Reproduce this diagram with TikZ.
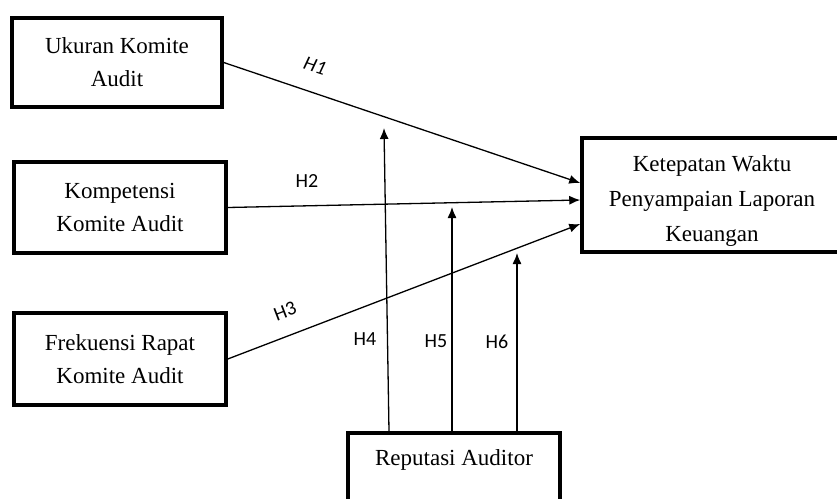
\documentclass[tikz,border=0pt]{standalone}
\usepackage{fontspec}
\usepackage{tikz}
\usetikzlibrary{arrows.meta, positioning}
\newfontfamily\boxfont{Liberation Serif}
\newfontfamily\labfont{Carlito}
\tikzset{
    boxnode/.style = {draw, rectangle, line width=3.5pt, inner sep = 0em, node distance=0em,
      minimum width=212pt, align=center, font=\boxfont\fontsize{23}{33}\selectfont},
    hnode/.style  = {draw=none, fill=none, rectangle, inner sep = 0em,
      font=\labfont\fontsize{20}{22}\selectfont},
    connect/.style = {black, line width=1.3pt, -{Latex[length=11pt, width=9pt]}}
}
\begin{document}
\begin{tikzpicture}[x=1pt, y=-1pt]
    \useasboundingbox (0,0) rectangle (837,498);
    \clip (0,0) rectangle (837,498);

    \node [name=ukuran, boxnode, minimum width=210pt, minimum height=89pt] at (117,62.5)
        {Ukuran Komite\\Audit};
    \node [name=kompetensi, boxnode, minimum height=91pt,
        below of = ukuran, xshift=3pt, yshift=-145pt] {Kompetensi\\Komite Audit};
    \node [name=frekuensi, boxnode, minimum height=92pt,
        below of = kompetensi, yshift=-151.5pt] {Frekuensi Rapat\\Komite Audit};

    \node [name=ketepatan, boxnode, minimum width=260pt, minimum height=114pt,
        right of = kompetensi, xshift=592pt, yshift=12.5pt, font=\boxfont\fontsize{23}{35}\selectfont]
        {\rule{0pt}{28pt}Ketepatan Waktu\\Penyampaian Laporan\\Keuangan};
    \node [name=reputasi, boxnode, minimum height=77pt, text depth=27pt,
        right of = frekuensi, xshift=334pt, yshift=-112.5pt] {Reputasi Auditor};

    \coordinate (m4) at (384,128);
    \coordinate (m5) at (452,207);
    \coordinate (m6) at (517,253);

    \draw (ukuran.east) edge[connect] ([yshift=12pt]ketepatan.west);
    \draw (kompetensi.east) edge[connect] ([yshift=-5pt]ketepatan.west);
    \draw (frekuensi.east) edge[connect] ([yshift=-29pt]ketepatan.west);

    \draw ([xshift=-65pt]reputasi.north) edge[connect] (m4);
    \draw ([xshift=-2pt]reputasi.north) edge[connect] (m5);
    \draw ([xshift=63pt]reputasi.north) edge[connect] (m6);

    \node [name=h1, hnode, rotate=-18, font=\labfont\itshape\fontsize{20}{22}\selectfont] at (315,66) {H1};
    \node [name=h2, hnode] at (307,181) {H2};
    \node [name=h3, hnode, rotate=21] at (285,311) {H3};
    \node [name=h4, hnode] at (365,339) {H4};
    \node [name=h5, hnode] at (436,341) {H5};
    \node [name=h6, hnode] at (497,342) {H6};
\end{tikzpicture}
\end{document}
